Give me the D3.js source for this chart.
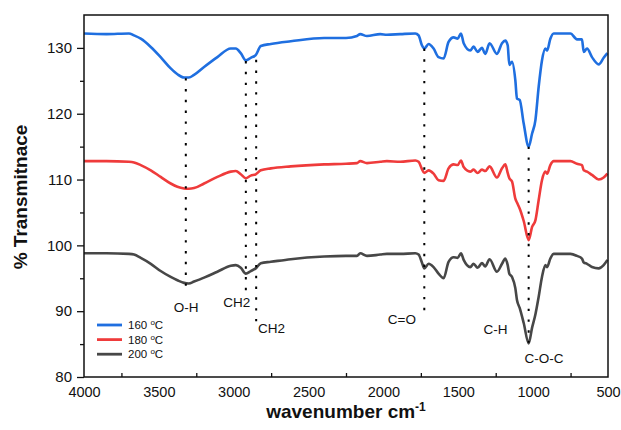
<!DOCTYPE html>
<html>
<head>
<meta charset="utf-8">
<script src="https://cdn.jsdelivr.net/npm/d3@7"></script>
<style>
  body { margin: 0; background: #fff; }
  text { font-family: "Liberation Sans", Arial, sans-serif; fill: #111; }
</style>
</head>
<body>
<div id="chart"></div>
<script>
// spectra (wavenumber in cm-1, % transmittance)
var wavenumber = [4000, 3850, 3700, 3666, 3621, 3554, 3488, 3421, 3376, 3332, 3300, 3265, 3198, 3109, 3020, 2986,
  2953, 2919, 2886, 2853, 2819, 2752, 2619, 2396, 2250, 2177, 2155, 2110, 2021, 1977, 1888, 1787, 1765, 1743,
  1727, 1698, 1665, 1632, 1598, 1565, 1531, 1504, 1482, 1464, 1420, 1398, 1371, 1342, 1320, 1291, 1242, 1208,
  1186, 1170, 1159, 1141, 1119, 1108, 1090, 1063, 1030, 1007, 985, 963, 941, 918, 907, 885, 863, 751, 707, 674,
  662, 640, 607, 562, 529, 504];

var t160 = [132.2, 132.1, 132.2, 131.9, 131.4, 130.15, 128.6, 126.9, 126.0, 125.5, 125.5, 125.9, 127.1, 128.6, 129.9, 129.9,
  129.2, 128.1, 128.5, 128.9, 130.3, 130.6, 131.0, 131.5, 131.5, 131.8, 132.1, 131.8, 132.1, 132.0, 132.1, 132.2, 131.9, 130.4,
  129.9, 130.6, 129.9, 128.6, 128.4, 130.9, 131.6, 131.4, 132.2, 130.7, 129.6, 130.2, 129.4, 130.0, 129.1, 130.7, 129.1, 130.7,
  131.1, 130.4, 127.4, 127.9, 125.1, 122.3, 122.1, 118.5, 115.0, 117.0, 119.0, 124.1, 128.1, 129.9, 129.6, 131.4, 132.2, 132.2, 131.3, 131.3,
  129.4, 129.9, 128.6, 127.5, 128.5, 129.2];

var t180 = [112.8, 112.8, 112.7, 112.6, 112.2, 111.4, 110.4, 109.4, 108.9, 108.65, 108.6, 108.7, 109.4, 110.4, 111.2, 111.3,
  110.8, 110.2, 110.6, 110.8, 111.4, 111.7, 112.0, 112.3, 112.4, 112.5, 112.8, 112.5, 112.7, 112.8, 112.7, 112.9, 112.7, 111.6,
  111.0, 111.4, 110.9, 109.9, 109.8, 111.7, 112.3, 112.2, 112.9, 111.9, 111.2, 111.5, 111.0, 111.5, 111.3, 112.0, 110.3, 111.7,
  112.3, 111.0, 110.2, 109.7, 107.1, 106.5, 105.6, 103.7, 100.8, 102.8, 103.8, 106.9, 109.9, 111.2, 110.9, 112.2, 112.8, 112.8, 112.4, 112.2,
  111.4, 111.2, 110.7, 110.0, 110.3, 110.9];

var t200 = [98.8, 98.8, 98.7, 98.6, 98.1, 97.2, 96.1, 95.2, 94.7, 94.3, 94.2, 94.5, 95.1, 96.0, 96.9, 97.0,
  96.6, 95.7, 96.1, 96.5, 97.3, 97.5, 97.9, 98.3, 98.4, 98.4, 98.8, 98.4, 98.6, 98.7, 98.7, 98.8, 98.6, 97.4,
  96.5, 97.2, 96.7, 95.7, 95.0, 97.5, 98.2, 98.1, 98.8, 97.8, 96.7, 97.2, 96.6, 97.3, 96.8, 97.9, 96.0, 97.2,
  98.0, 97.0, 95.7, 95.2, 93.5, 91.7, 90.5, 88.2, 85.1, 87.5, 89.5, 92.2, 95.2, 97.0, 96.7, 98.0, 98.7, 98.7, 98.4, 98.0,
  97.4, 97.2, 96.7, 96.5, 97.0, 97.8];

var seriesNames = ["160", "180", "200"];
var xTicks = [4000, 3500, 3000, 2500, 2000, 1500, 1000, 500];
var yTicks = [80, 90, 100, 110, 120, 130];

// dotted guide lines at the band positions
var peakWn = [3320, 2919, 2850, 1727, 1030];
var peakTop = [125.4, 128.0, 128.2, 129.9, 115.0];
var peakBottom = [93.7, 92.8, 88.4, 89.8, 85.2];

// band labels
var bandText = ["O-H", "CH2", "CH2", "C=O", "C-H", "C-O-C"];
var bandWn = [3318, 2979, 2837, 1877, 1251, 927];
var bandT = [89.9, 90.7, 86.7, 88.1, 86.6, 82.1];

var svgWidth = 621;
var svgHeight = 430;
var margin = { top: 15, right: 13, bottom: 53, left: 84 };
var width = svgWidth - margin.left - margin.right;
var height = svgHeight - margin.top - margin.bottom;

var colors = ["#1f6fe0", "#ef3b3b", "#474747"];
var series = [t160, t180, t200];

var svg = d3.select("#chart").append("svg")
  .attr("width", svgWidth)
  .attr("height", svgHeight);

var chartGroup = svg.append("g")
  .attr("transform", `translate(${margin.left}, ${margin.top})`);

var x = d3.scaleLinear().domain([4000, 500]).range([0, width]);
var y = d3.scaleLinear().domain([80, 135]).range([height, 0]);

// axes
var bottomAxis = d3.axisBottom(x).tickValues(xTicks).tickFormat(d3.format("d")).tickSize(0).tickPadding(10);
var xAxis = chartGroup.append("g")
  .attr("transform", `translate(0, ${height})`)
  .call(bottomAxis);
xAxis.select(".domain").remove();
xAxis.selectAll("text").style("font-size", "14.5px").attr("fill", "#111");

// x minor ticks point inward
chartGroup.append("g")
  .attr("transform", `translate(0, ${height})`)
  .call(d3.axisTop(x).tickValues([3750, 3250, 2750, 2250, 1750, 1250, 750]).tickSize(4).tickFormat(""))
  .call(g => g.select(".domain").remove())
  .selectAll("line").attr("stroke", "#111").attr("stroke-width", 1.3);

var leftAxis = d3.axisLeft(y).tickValues(yTicks).tickSize(7).tickPadding(5);
var yAxis = chartGroup.append("g").call(leftAxis);
yAxis.select(".domain").remove();
yAxis.selectAll("line").attr("stroke", "#111").attr("stroke-width", 1.3);
yAxis.selectAll("text").style("font-size", "15px").attr("fill", "#111");

chartGroup.append("g")
  .call(d3.axisLeft(y).tickValues([85, 95, 105, 115, 125]).tickSize(4).tickFormat(""))
  .call(g => g.select(".domain").remove())
  .selectAll("line").attr("stroke", "#111").attr("stroke-width", 1.3);

// spectra
var line = d3.line()
  .x((d, i) => x(wavenumber[i]))
  .y(d => y(d))
  .curve(d3.curveMonotoneX);

series.forEach(function(vals, k) {
  chartGroup.append("path")
    .datum(vals)
    .attr("fill", "none")
    .attr("stroke", colors[k])
    .attr("stroke-width", 2.6)
    .attr("stroke-linejoin", "round")
    .attr("d", line);
});

// dotted guides
peakWn.forEach(function(w, i) {
  chartGroup.append("line")
    .attr("x1", x(w)).attr("x2", x(w))
    .attr("y1", y(peakTop[i])).attr("y2", y(peakBottom[i]))
    .attr("stroke", "#000")
    .attr("stroke-width", 2)
    .attr("stroke-dasharray", "2.4,8.4");
});

bandText.forEach(function(t, i) {
  chartGroup.append("text")
    .attr("x", x(bandWn[i]))
    .attr("y", y(bandT[i]))
    .attr("text-anchor", i === 2 ? "start" : "middle")
    .style("font-size", "13.5px")
    .text(t);
});

// frame
chartGroup.append("rect")
  .attr("width", width)
  .attr("height", height)
  .attr("fill", "none")
  .attr("stroke", "#111")
  .attr("stroke-width", 1.5);

// legend
var legend = chartGroup.append("g").attr("transform", "translate(13, 310)");
seriesNames.forEach(function(name, i) {
  var row = legend.append("g").attr("transform", `translate(0, ${i * 14.6})`);
  row.append("line")
    .attr("x1", 0).attr("x2", 25)
    .attr("stroke", colors[i])
    .attr("stroke-width", 2.8);
  var txt = row.append("text")
    .attr("x", 31)
    .attr("y", 4)
    .style("font-size", "11.5px");
  txt.append("tspan").text(name + " ");
  txt.append("tspan").attr("dy", -4).style("font-size", "8px").text("o");
  txt.append("tspan").attr("dy", 4).text("C");
});

// axis titles
svg.append("text")
  .attr("x", margin.left + width / 2)
  .attr("y", 418)
  .attr("text-anchor", "middle")
  .style("font-size", "19px")
  .style("font-weight", "bold")
  .call(function(t) {
    t.append("tspan").text("wavenumber cm");
    t.append("tspan").attr("dy", -7).style("font-size", "12px").text("-1");
  });

svg.append("text")
  .attr("transform", "translate(27, 197) rotate(-90)")
  .attr("text-anchor", "middle")
  .style("font-size", "19px")
  .style("font-weight", "bold")
  .text("% Transmitnace");
</script>
</body>
</html>
